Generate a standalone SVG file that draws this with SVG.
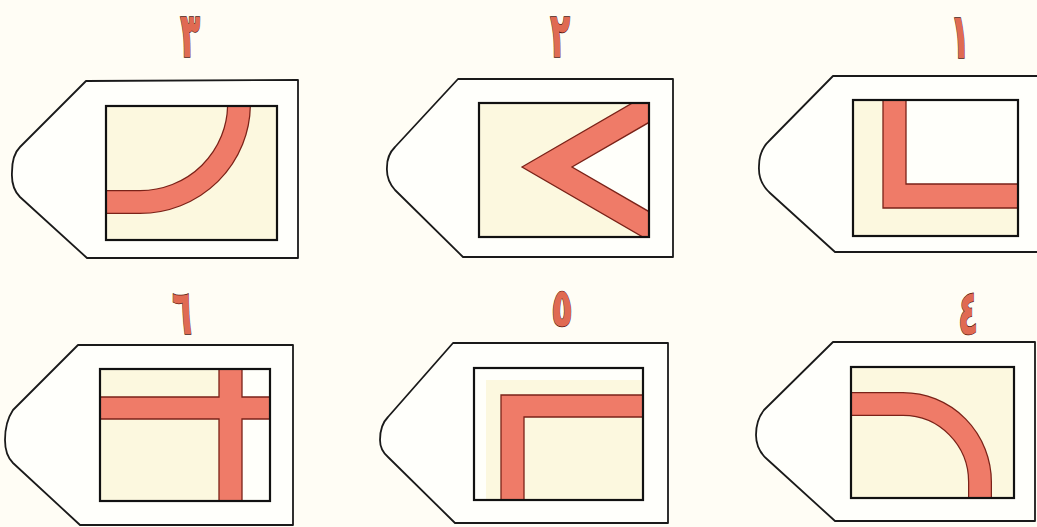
<svg xmlns="http://www.w3.org/2000/svg" width="1037" height="527" viewBox="0 0 1037 527">
<style>
.bg{fill:#fffdf5}
.tag{fill:#fffffb;stroke:#1a1a1a;stroke-width:1.8;stroke-linejoin:round}
.inner{fill:#fcf8df}
.wh{fill:#fffffa}
.frame{fill:none;stroke:#111;stroke-width:2.2}
.band{fill:#ef7b68;stroke:#7a2218;stroke-width:1.3;stroke-linejoin:miter}
.bandO{fill:none;stroke:#7a2218;stroke-width:24}
.bandI{fill:none;stroke:#ef7b68;stroke-width:21.5}
.num{font-family:"DejaVu Sans","Noto Sans",sans-serif;font-weight:bold;font-size:60px;fill:#e06a52;stroke:#4a140c;stroke-width:1.4;text-anchor:middle;text-rendering:geometricPrecision;paint-order:stroke}
</style>
<defs>
<clipPath id="c3"><rect x="106" y="106" width="171" height="134"/></clipPath>
<clipPath id="c2"><rect x="479" y="103" width="170" height="134"/></clipPath>
<clipPath id="c1"><rect x="853" y="100" width="165" height="136"/></clipPath>
<clipPath id="c6"><rect x="100" y="369" width="170" height="132"/></clipPath>
<clipPath id="c5"><rect x="474" y="368" width="169" height="132"/></clipPath>
<clipPath id="c4"><rect x="851" y="367" width="163" height="131"/></clipPath>
</defs>
<rect class="bg" x="0" y="0" width="1037" height="527"/>

<g id="panel3">
<text class="num" transform="translate(190,57) scale(0.55,1.05)">٣</text>
<path class="tag" d="M86,81 L298,80 L298,258 L87,258 L20,197 Q11,188 12,172 Q12,155 20,147 Z"/>
<rect class="inner" x="106" y="106" width="171" height="134"/>
<g clip-path="url(#c3)">
<path class="bandO" d="M239,98 L239,104 A99,98 0 0 1 140,202 L100,202"/>
<path class="bandI" d="M239,98 L239,104 A99,98 0 0 1 140,202 L100,202"/>
</g>
<rect class="frame" x="106" y="106" width="171" height="134"/>
</g>

<g id="panel2">
<text class="num" transform="translate(560,57) scale(0.55,1.05)">٢</text>
<path class="tag" d="M458,79 L673,79 L673,257 L463,257 L395,190 Q386,180 387,167 Q387,155 395,147 Z"/>
<rect class="inner" x="479" y="103" width="170" height="134"/>
<path class="wh" d="M572,167 L660,116 L660,218 Z" clip-path="url(#c2)"/>
<polygon class="band" clip-path="url(#c2)" points="522,167 660,87 660,116 572,167 660,218 660,247"/>
<rect class="frame" x="479" y="103" width="170" height="134"/>
</g>

<g id="panel1">
<text class="num" transform="translate(960,58) scale(0.55,1.05)">١</text>
<path class="tag" d="M833,76 L1040,76 L1040,252 L835,252 L770,193 Q758,182 759,166 Q759,150 770,140 Z"/>
<rect class="inner" x="853" y="100" width="165" height="136"/>
<rect class="wh" x="906" y="100" width="112" height="84"/>
<polygon class="band" clip-path="url(#c1)" points="883,95 906,95 906,184 1025,184 1025,208 883,208"/>
<rect class="frame" x="853" y="100" width="165" height="136"/>
</g>

<g id="panel6">
<text class="num" transform="translate(182,334) scale(0.55,1.05)">٦</text>
<path class="tag" d="M78,345 L293,345 L293,525 L80,525 L13,463 Q5,455 5,440 Q5,422 13,410 Z"/>
<rect class="inner" x="100" y="369" width="170" height="132"/>
<rect class="wh" x="242" y="369" width="28" height="132"/>
<polygon class="band" clip-path="url(#c6)" points="219,364 242,364 242,397 275,397 275,419 242,419 242,506 219,506 219,419 95,419 95,397 219,397"/>
<rect class="frame" x="100" y="369" width="170" height="132"/>
</g>

<g id="panel5">
<text class="num" transform="translate(562,326) scale(0.6,0.9)">٥</text>
<path class="tag" d="M453,343 L668,343 L668,523 L455,523 L388,457 Q380,450 380,440 Q380,425 388,417 Z"/>
<rect class="inner" x="474" y="368" width="169" height="132"/>
<rect class="wh" x="474" y="368" width="169" height="12"/>
<rect class="wh" x="474" y="368" width="12" height="132"/>
<polygon class="band" clip-path="url(#c5)" points="501,395 650,395 650,417 524,417 524,506 501,506"/>
<rect class="frame" x="474" y="368" width="169" height="132"/>
</g>

<g id="panel4">
<text class="num" transform="translate(968,334) scale(0.55,1.05)">٤</text>
<path class="tag" d="M833,342 L1035,342 L1035,521 L835,521 L768,460 Q756,450 756,435 Q756,420 764,410 Z"/>
<rect class="inner" x="851" y="367" width="163" height="131"/>
<g clip-path="url(#c4)">
<path class="bandO" d="M845,404 L903,404 A77,78 0 0 1 980,482 L980,505"/>
<path class="bandI" d="M845,404 L903,404 A77,78 0 0 1 980,482 L980,505"/>
</g>
<rect class="frame" x="851" y="367" width="163" height="131"/>
</g>

<g id="connectors"/>
</svg>
